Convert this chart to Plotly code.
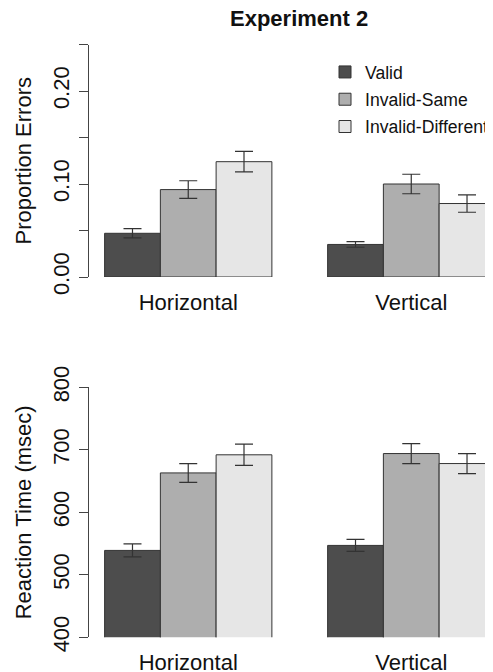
import plotly.graph_objects as go
from plotly.subplots import make_subplots

orientations = ["Horizontal", "Vertical"]
conditions = ["Valid", "Invalid-Same", "Invalid-Different"]
colors = ["#4D4D4D", "#AEAEAE", "#E6E6E6"]

err_mean = {
    "Valid": [0.047, 0.035],
    "Invalid-Same": [0.094, 0.100],
    "Invalid-Different": [0.124, 0.079],
}
err_se = {
    "Valid": [0.005, 0.003],
    "Invalid-Same": [0.0095, 0.0105],
    "Invalid-Different": [0.011, 0.0094],
}
rt_mean = {
    "Valid": [539, 547],
    "Invalid-Same": [663, 694],
    "Invalid-Different": [692, 678],
}
rt_se = {
    "Valid": [10.4, 9.6],
    "Invalid-Same": [15, 16],
    "Invalid-Different": [17, 16],
}

err_ticks = [0.00, 0.05, 0.10, 0.15, 0.20, 0.25]
err_ticktext = ["0.00", "", "0.10", "", "0.20", ""]
rt_ticks = [400, 500, 600, 700, 800]
rt_ticktext = ["400", "500", "600", "700", "800"]

# page body has an 8px margin; the figure is sized to fill the rest of the window
OFF = 8
W, H = 493 - OFF, 672 - OFF
FONT = "Liberation Sans, Arial, sans-serif"

fig = make_subplots(rows=2, cols=1, vertical_spacing=0.1)

for i, c in enumerate(conditions):
    fig.add_trace(go.Bar(
        x=orientations, y=err_mean[c], name=c,
        marker=dict(color=colors[i], line=dict(color="#333333", width=1)),
        error_y=dict(type="data", array=err_se[c], color="#333333", thickness=1.2, width=9),
        legendgroup=c, showlegend=True,
    ), row=1, col=1)
    fig.add_trace(go.Bar(
        x=orientations, y=rt_mean[c], name=c,
        marker=dict(color=colors[i], line=dict(color="#333333", width=1)),
        error_y=dict(type="data", array=rt_se[c], color="#333333", thickness=1.2, width=9),
        legendgroup=c, showlegend=False,
    ), row=2, col=1)

L = 89 - OFF
def py(p):
    return 1 - (p - OFF) / H
def px(p):
    return (p - OFF - L) / (W - L)

xr = [-0.445, 1.3665]
xaxis_common = dict(
    range=xr, showline=False, showgrid=False, zeroline=False, ticks="", automargin=False,
    tickfont=dict(size=22, color="#111111", family=FONT), ticklabelstandoff=10,
)
yaxis_common = dict(
    showline=True, linecolor="#444444", linewidth=1, showgrid=False, zeroline=False,
    ticks="outside", ticklen=9, tickcolor="#444444", tickwidth=1, tickangle=-90, automargin=False,
    tickfont=dict(size=22, color="#111111", family=FONT), ticklabelstandoff=1,
)

fig.update_layout(
    template="none",
    width=W, height=H,
    margin=dict(l=L, r=0, t=0, b=0, autoexpand=False),
    paper_bgcolor="white", plot_bgcolor="white",
    barmode="group", bargap=0.25, bargroupgap=0,
    font=dict(family=FONT, color="#111111"),
    xaxis=dict(**xaxis_common, domain=[0, 1]),
    xaxis2=dict(**xaxis_common, domain=[0, 1]),
    yaxis=dict(**yaxis_common, domain=[py(277), py(44.5)], range=[0, 0.25],
               tickvals=err_ticks, ticktext=err_ticktext,
               title=dict(text="Proportion Errors", font=dict(size=22, family=FONT, color="#111111"), standoff=11)),
    yaxis2=dict(**yaxis_common, domain=[py(637.3), py(387.3)], range=[400, 800],
                tickvals=rt_ticks, ticktext=rt_ticktext,
                title=dict(text="Reaction Time (msec)", font=dict(size=22, family=FONT, color="#111111"), standoff=11)),
    legend=dict(x=px(325), y=py(54), xanchor="left", yanchor="top",
                font=dict(size=17.6, family=FONT, color="#111111"),
                bgcolor="rgba(0,0,0,0)", borderwidth=0, tracegroupgap=1.4),
    showlegend=True,
    annotations=[dict(text="<b>Experiment 2</b>", xref="paper", yref="paper",
                      x=px(299.4), y=py(18.3), xanchor="center", yanchor="middle",
                      showarrow=False, font=dict(size=22, family=FONT, color="#111111"))],
)

fig.write_html("out.html")
